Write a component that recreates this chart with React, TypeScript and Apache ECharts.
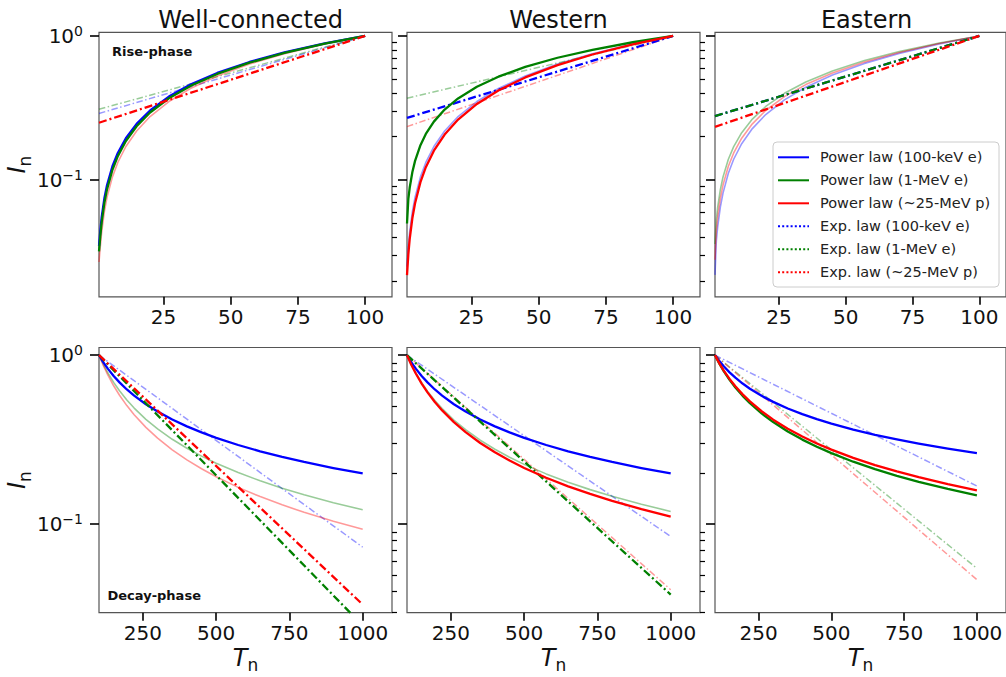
import React, { useEffect, useRef } from 'react';
import * as echarts from 'echarts';

// ---------- labels ----------
const columnTitles = ['Well-connected', 'Western', 'Eastern'];
const particles = ['100-keV e', '1-MeV e', '~25-MeV p'];
const particleColors = ['#0000ff', '#008000', '#ff0000'];
const lawNames = ['Power law', 'Exp. law'];
const phaseLabels = ['Rise-phase', 'Decay-phase'];

// ---------- rise phase (x: normalised time T_n, y: normalised intensity I_n) ----------
const riseT = [1, 1.5, 2, 3, 4, 6, 8, 11, 15, 20, 27, 35, 45, 57, 70, 85, 100];
const riseExpT = [1, 100];
const riseXTicks = [25, 50, 75, 100];

// power-law curves, one row per particle (100-keV e, 1-MeV e, ~25-MeV p)
const risePowerWell = [
  [0.035, 0.0447, 0.0553, 0.0747, 0.0924, 0.1247, 0.1543, 0.1953, 0.2457, 0.3039, 0.3796, 0.4598, 0.5539, 0.6598, 0.7679, 0.8867, 1],
  [0.032, 0.0411, 0.0511, 0.0696, 0.0866, 0.1179, 0.1467, 0.1868, 0.2365, 0.2943, 0.3698, 0.4503, 0.545, 0.6524, 0.7625, 0.8837, 1],
  [0.027, 0.0348, 0.0437, 0.0605, 0.0762, 0.1053, 0.1326, 0.171, 0.2192, 0.276, 0.3509, 0.4318, 0.528, 0.6379, 0.7517, 0.8781, 1],
];
const risePowerWestern = [
  [0.0251, 0.0348, 0.0437, 0.0605, 0.0762, 0.1053, 0.1326, 0.171, 0.2192, 0.276, 0.3509, 0.4318, 0.528, 0.6379, 0.7517, 0.8781, 1],
  [0.05, 0.074, 0.0884, 0.1137, 0.1359, 0.1748, 0.2089, 0.2545, 0.3085, 0.3687, 0.4441, 0.5215, 0.6095, 0.7059, 0.8017, 0.9042, 1],
  [0.0219, 0.0306, 0.0389, 0.0545, 0.0691, 0.0968, 0.1229, 0.1601, 0.2071, 0.263, 0.3374, 0.4182, 0.5155, 0.6272, 0.7436, 0.8738, 1],
];
const risePowerEastern = [
  [0.022, 0.0378, 0.0473, 0.0649, 0.0812, 0.1114, 0.1395, 0.1788, 0.2277, 0.285, 0.3602, 0.441, 0.5365, 0.6451, 0.7571, 0.8809, 1],
  [0.036, 0.0529, 0.0647, 0.0859, 0.1051, 0.1396, 0.1707, 0.2133, 0.2651, 0.3242, 0.3999, 0.4797, 0.5718, 0.6749, 0.7788, 0.8925, 1],
  [0.028, 0.0447, 0.0553, 0.0747, 0.0924, 0.1247, 0.1543, 0.1953, 0.2457, 0.3039, 0.3796, 0.4598, 0.5539, 0.6598, 0.7679, 0.8867, 1],
];
// exponential-law lines (values at T_n = 1 and T_n = 100)
const riseExpWell = [[0.29, 1], [0.31, 1], [0.25, 1]];
const riseExpWestern = [[0.27, 1], [0.37, 1], [0.235, 1]];
const riseExpEastern = [[0.278, 1], [0.278, 1], [0.234, 1]];

// ---------- decay phase ----------
const decayT = [100, 115, 130, 150, 170, 195, 220, 260, 300, 350, 400, 450, 500, 575, 650, 725, 800, 900, 1000];
const decayExpT = [100, 1000];
const decayXTicks = [250, 500, 750, 1000];

const decayPowerWell = [
  [1, 0.9067, 0.832, 0.7527, 0.69, 0.6266, 0.576, 0.5124, 0.4634, 0.4159, 0.3789, 0.349, 0.3241, 0.2939, 0.2698, 0.2499, 0.2332, 0.2148, 0.1995],
  [1, 0.8802, 0.7866, 0.6903, 0.6155, 0.5429, 0.4862, 0.4171, 0.366, 0.3177, 0.2812, 0.2525, 0.2293, 0.2018, 0.1804, 0.1632, 0.1492, 0.1339, 0.1216],
  [1, 0.866, 0.7633, 0.6587, 0.5788, 0.5028, 0.4441, 0.3736, 0.3226, 0.2752, 0.2398, 0.2125, 0.1905, 0.165, 0.1455, 0.13, 0.1174, 0.104, 0.0933],
];
const decayPowerWestern = [
  [1, 0.9067, 0.832, 0.7527, 0.69, 0.6266, 0.576, 0.5124, 0.4634, 0.4159, 0.3789, 0.349, 0.3241, 0.2939, 0.2698, 0.2499, 0.2332, 0.2148, 0.1995],
  [1, 0.8789, 0.7846, 0.6874, 0.6122, 0.5393, 0.4824, 0.4131, 0.3619, 0.3138, 0.2773, 0.2488, 0.2257, 0.1983, 0.177, 0.16, 0.1461, 0.1311, 0.1189],
  [1, 0.875, 0.7785, 0.6791, 0.6026, 0.5284, 0.471, 0.4015, 0.3502, 0.3022, 0.2661, 0.2378, 0.215, 0.1881, 0.1674, 0.1509, 0.1373, 0.1227, 0.1109],
];
const decayPowerEastern = [
  [1, 0.9222, 0.8589, 0.7904, 0.7354, 0.6791, 0.6332, 0.5743, 0.5289, 0.4836, 0.4474, 0.418, 0.3933, 0.3626, 0.3377, 0.317, 0.2994, 0.2797, 0.263],
  [1, 0.8904, 0.8042, 0.7143, 0.6437, 0.5743, 0.5196, 0.4523, 0.4018, 0.3535, 0.3164, 0.287, 0.263, 0.2341, 0.2115, 0.1932, 0.178, 0.1614, 0.1479],
  [1, 0.8941, 0.8107, 0.7231, 0.6542, 0.5861, 0.5322, 0.4656, 0.4152, 0.367, 0.3299, 0.3002, 0.276, 0.2467, 0.2237, 0.205, 0.1895, 0.1724, 0.1585],
];
const decayExpWell = [[1, 0.073], [1, 0.0251], [1, 0.0334]];
const decayExpWestern = [[1, 0.0845], [1, 0.0383], [1, 0.0409]];
const decayExpEastern = [[1, 0.168], [1, 0.0547], [1, 0.0469]];

// which law is the preferred fit (drawn bold) for each particle in each panel
const preferredLaw = [
  ['power', 'power', 'exp'],
  ['exp', 'power', 'power'],
  ['exp', 'exp', 'exp'],
  ['power', 'exp', 'exp'],
  ['power', 'exp', 'power'],
  ['power', 'power', 'power'],
];

const powerByPanel = [risePowerWell, risePowerWestern, risePowerEastern, decayPowerWell, decayPowerWestern, decayPowerEastern];
const expByPanel = [riseExpWell, riseExpWestern, riseExpEastern, decayExpWell, decayExpWestern, decayExpEastern];

// y axis tick values
const majorY = [0.1, 1];
const minorYRise = [0.02, 0.03, 0.04, 0.05, 0.06, 0.07, 0.08, 0.09, 0.2, 0.3, 0.4, 0.5, 0.6, 0.7, 0.8, 0.9];
const minorYDecay = [0.03, 0.04, 0.05, 0.06, 0.07, 0.08, 0.09, 0.2, 0.3, 0.4, 0.5, 0.6, 0.7, 0.8, 0.9];

// ---------- layout & style ----------
const FONT = 'DejaVu Sans';
const TEXT = '#111111';
const panelLeft = [99, 407, 715];
const panelWidth = 293;
const rowTop = [32.3, 347.5];
const rowHeight = [264.5, 265.2];
const yRange = [
  [0.0155, 1.06],
  [0.0299, 1.11],
];
const xRange = [
  [1, 110],
  [100, 1100],
];
const FAINT = 0.4;
const DASH_BOLD = [8, 3, 2, 3];
const DASH_FAINT = [6.5, 2.5, 1.5, 2.5];

const nameRich = {
  i: { fontSize: 24, fontStyle: 'italic', fontFamily: FONT, color: TEXT, lineHeight: 28, verticalAlign: 'top' },
  s: { fontSize: 17, fontFamily: FONT, color: TEXT, lineHeight: 15, verticalAlign: 'bottom' },
};
const powRich = {
  b: { fontSize: 20, fontFamily: FONT, color: TEXT, lineHeight: 24 },
  s: { fontSize: 14, fontFamily: FONT, color: TEXT, lineHeight: 14, verticalAlign: 'top' },
};

function powLabel(v: number) {
  const e = Math.round(Math.log10(v));
  return `{b|10}{s|${e < 0 ? '\u2212' + -e : e}}`;
}

function buildOption() {
  const grid: any[] = [];
  const xAxis: any[] = [];
  const yAxis: any[] = [];
  const series: any[] = [];

  for (let row = 0; row < 2; row++) {
    for (let col = 0; col < 3; col++) {
      const p = row * 3 + col;
      const rise = row === 0;
      const xTicks = rise ? riseXTicks : decayXTicks;
      grid.push({
        left: panelLeft[col],
        top: rowTop[row],
        width: panelWidth,
        height: rowHeight[row],
        show: true,
        borderColor: '#555555',
        borderWidth: 1.2,
        backgroundColor: 'transparent',
      });
      xAxis.push({
        type: 'value',
        gridIndex: p,
        min: xRange[row][0],
        max: xRange[row][1],
        axisLine: { show: false },
        splitLine: { show: false },
        axisTick: { show: true, length: 8, customValues: xTicks, lineStyle: { color: '#000', width: 1.6 } },
        axisLabel: {
          customValues: xTicks,
          margin: 10,
          fontSize: 20,
          fontFamily: FONT,
          color: TEXT,
          formatter: (v: number) => String(v),
        },
        name: rise ? '' : '{i|T}{s|n}',
        nameLocation: 'middle',
        nameGap: 33,
        nameTextStyle: { rich: nameRich },
      });
      yAxis.push({
        type: 'log',
        gridIndex: p,
        min: yRange[row][0],
        max: yRange[row][1],
        axisLine: { show: false },
        splitLine: { show: false },
        axisTick: { show: true, length: 9, customValues: majorY, lineStyle: { color: '#000', width: 1.6 } },
        axisLabel: {
          show: col === 0,
          customValues: majorY,
          margin: 16,
          formatter: powLabel,
          rich: powRich,
        },
        name: col === 0 ? '{i|I}{s|n}' : '',
        nameLocation: 'middle',
        nameGap: 63,
        nameTextStyle: { rich: nameRich },
      });
      yAxis.push({
        type: 'log',
        gridIndex: p,
        min: yRange[row][0],
        max: yRange[row][1],
        axisLine: { show: false },
        splitLine: { show: false },
        axisLabel: { show: false },
        axisTick: {
          show: true,
          length: 5,
          customValues: rise ? minorYRise : minorYDecay,
          lineStyle: { color: '#000', width: 1.2 },
        },
      });

      const T = rise ? riseT : decayT;
      const TE = rise ? riseExpT : decayExpT;
      for (let k = 0; k < 3; k++) {
        const boldPower = preferredLaw[p][k] === 'power';
        const color = particleColors[k];
        series.push({
          type: 'line',
          name: `${lawNames[0]} (${particles[k]})`,
          xAxisIndex: p,
          yAxisIndex: 2 * p,
          data: T.map((t, i) => [t, powerByPanel[p][k][i]]),
          symbol: 'none',
          silent: true,
          z: boldPower ? 3 : 2,
          lineStyle: { color, width: boldPower ? 2.3 : 1.6, opacity: boldPower ? 1 : FAINT, join: 'round' },
        });
        series.push({
          type: 'line',
          name: `${lawNames[1]} (${particles[k]})`,
          xAxisIndex: p,
          yAxisIndex: 2 * p,
          data: TE.map((t, i) => [t, expByPanel[p][k][i]]),
          symbol: 'none',
          silent: true,
          z: boldPower ? 2 : 3,
          lineStyle: {
            color,
            width: boldPower ? 1.5 : 2.3,
            opacity: boldPower ? FAINT : 1,
            type: boldPower ? DASH_FAINT : DASH_BOLD,
            cap: 'butt',
          },
        });
      }
    }
  }

  const title = columnTitles.map((t, c) => ({
    text: t,
    left: panelLeft[c] + panelWidth / 2,
    top: 3,
    textAlign: 'center',
    textStyle: { fontSize: 24, fontWeight: 'normal', fontFamily: FONT, color: TEXT },
  }));

  // legend box drawn in the Eastern rise-phase panel
  const legendEntries: { text: string; color: string; dotted: boolean }[] = [];
  lawNames.forEach((law, li) =>
    particles.forEach((pt, k) => legendEntries.push({ text: `${law} (${pt})`, color: particleColors[k], dotted: li === 1 }))
  );
  const legendX = 773;
  const legendY = 142;
  const rowStep = 23;
  const legendChildren: any[] = [
    {
      type: 'rect',
      shape: { x: legendX, y: legendY, width: 226, height: 145, r: 4 },
      style: { fill: 'rgba(255,255,255,0.85)', stroke: '#cccccc', lineWidth: 1 },
    },
  ];
  legendEntries.forEach((e, i) => {
    const yy = legendY + 15.3 + i * rowStep;
    legendChildren.push({
      type: 'line',
      shape: { x1: legendX + 5, y1: yy, x2: legendX + 36, y2: yy },
      style: { stroke: e.color, lineWidth: 2, lineDash: e.dotted ? [2, 2.2] : null },
    });
    legendChildren.push({
      type: 'text',
      x: legendX + 47,
      y: yy,
      style: { text: e.text, fontSize: 14.5, fontFamily: FONT, fill: '#222222', verticalAlign: 'middle' },
    });
  });

  const graphic: any[] = [
    { type: 'group', z: 100, children: legendChildren },
    {
      type: 'text',
      x: 112,
      y: 51,
      z: 100,
      style: { text: phaseLabels[0], fontSize: 13, fontWeight: 'bold', fontFamily: FONT, fill: TEXT, verticalAlign: 'middle' },
    },
    {
      type: 'text',
      x: 107.5,
      y: 595,
      z: 100,
      style: { text: phaseLabels[1], fontSize: 13, fontWeight: 'bold', fontFamily: FONT, fill: TEXT, verticalAlign: 'middle' },
    },
  ];

  return {
    animation: false,
    backgroundColor: '#ffffff',
    textStyle: { fontFamily: FONT },
    title,
    grid,
    xAxis,
    yAxis,
    series,
    graphic,
  };
}

export default function App() {
  const ref = useRef<HTMLDivElement>(null);
  useEffect(() => {
    const chart = echarts.init(ref.current as HTMLDivElement, null, { renderer: 'svg' });
    chart.setOption(buildOption() as any);
    return () => chart.dispose();
  }, []);
  return (
    <div
      ref={ref}
      style={{ position: 'fixed', left: 0, top: 0, width: 1006, height: 677, background: '#ffffff' }}
    />
  );
}
